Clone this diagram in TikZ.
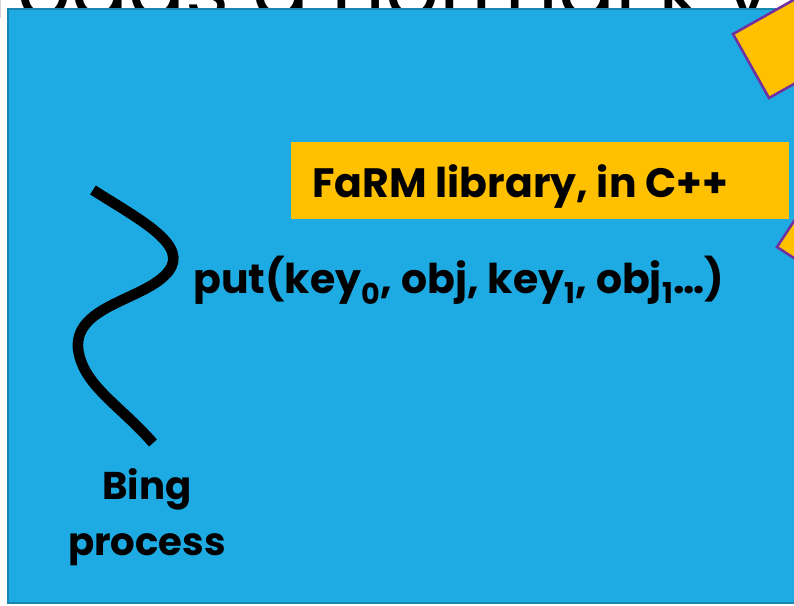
\documentclass[tikz,border=0pt]{standalone}
\usepackage{fontspec}
\setmainfont{Poppins}
\definecolor{slideblue}{HTML}{1EABE3}
\definecolor{slideedge}{HTML}{1A85AE}
\definecolor{farmyellow}{HTML}{FFC000}
\definecolor{farmpurple}{HTML}{7030A0}
\tikzset{
  bigtext/.style={font=\bfseries\fontsize{35}{42}\selectfont, inner sep=0pt},
  tile/.style={fill=farmyellow, draw=farmpurple, line width=2.2pt}
}
\begin{document}
\begin{tikzpicture}[x=0.03cm,y=-0.03cm]
\useasboundingbox (0,0) rectangle (794,605);
\clip (0,0) rectangle (794,605);
\fill[white] (0,0) rectangle (794,605);
% slide text behind the panel
\node[anchor=base west, inner sep=0pt, font=\fontsize{72}{80}\selectfont] (behind) at (-14,18) {roads a normal k v system};
% the panel
\filldraw[fill=slideblue, draw=slideedge, line width=2pt] (8,9) rectangle (820,603);
% tiles on the right
\filldraw[tile] (733,34) -- (769,98) -- (833,62) -- (797,-2) -- cycle;
\filldraw[tile] (777,247) -- (817,186) -- (878,226) -- (838,287) -- cycle;
% library box
\fill[farmyellow] (291,142) rectangle (789,219);
\node[bigtext, anchor=base west] (farm) at (312,197) {FaRM library, in C++};
% the process
\draw[line width=9pt] (93,190) .. controls (140,220) and (190,245) .. (168,272)
  .. controls (145,300) and (75,305) .. (78,348)
  .. controls (82,385) and (120,405) .. (153,443);
\node[bigtext, anchor=base west] (put) at (193,293) {put(key\textsubscript{0}, obj, key\textsubscript{1}, obj\textsubscript{1}\dots)};
\node[bigtext, anchor=base, align=center, font=\bfseries\fontsize{33}{47}\selectfont] (bing) at (147,555) {Bing\\process};
\end{tikzpicture}
\end{document}
